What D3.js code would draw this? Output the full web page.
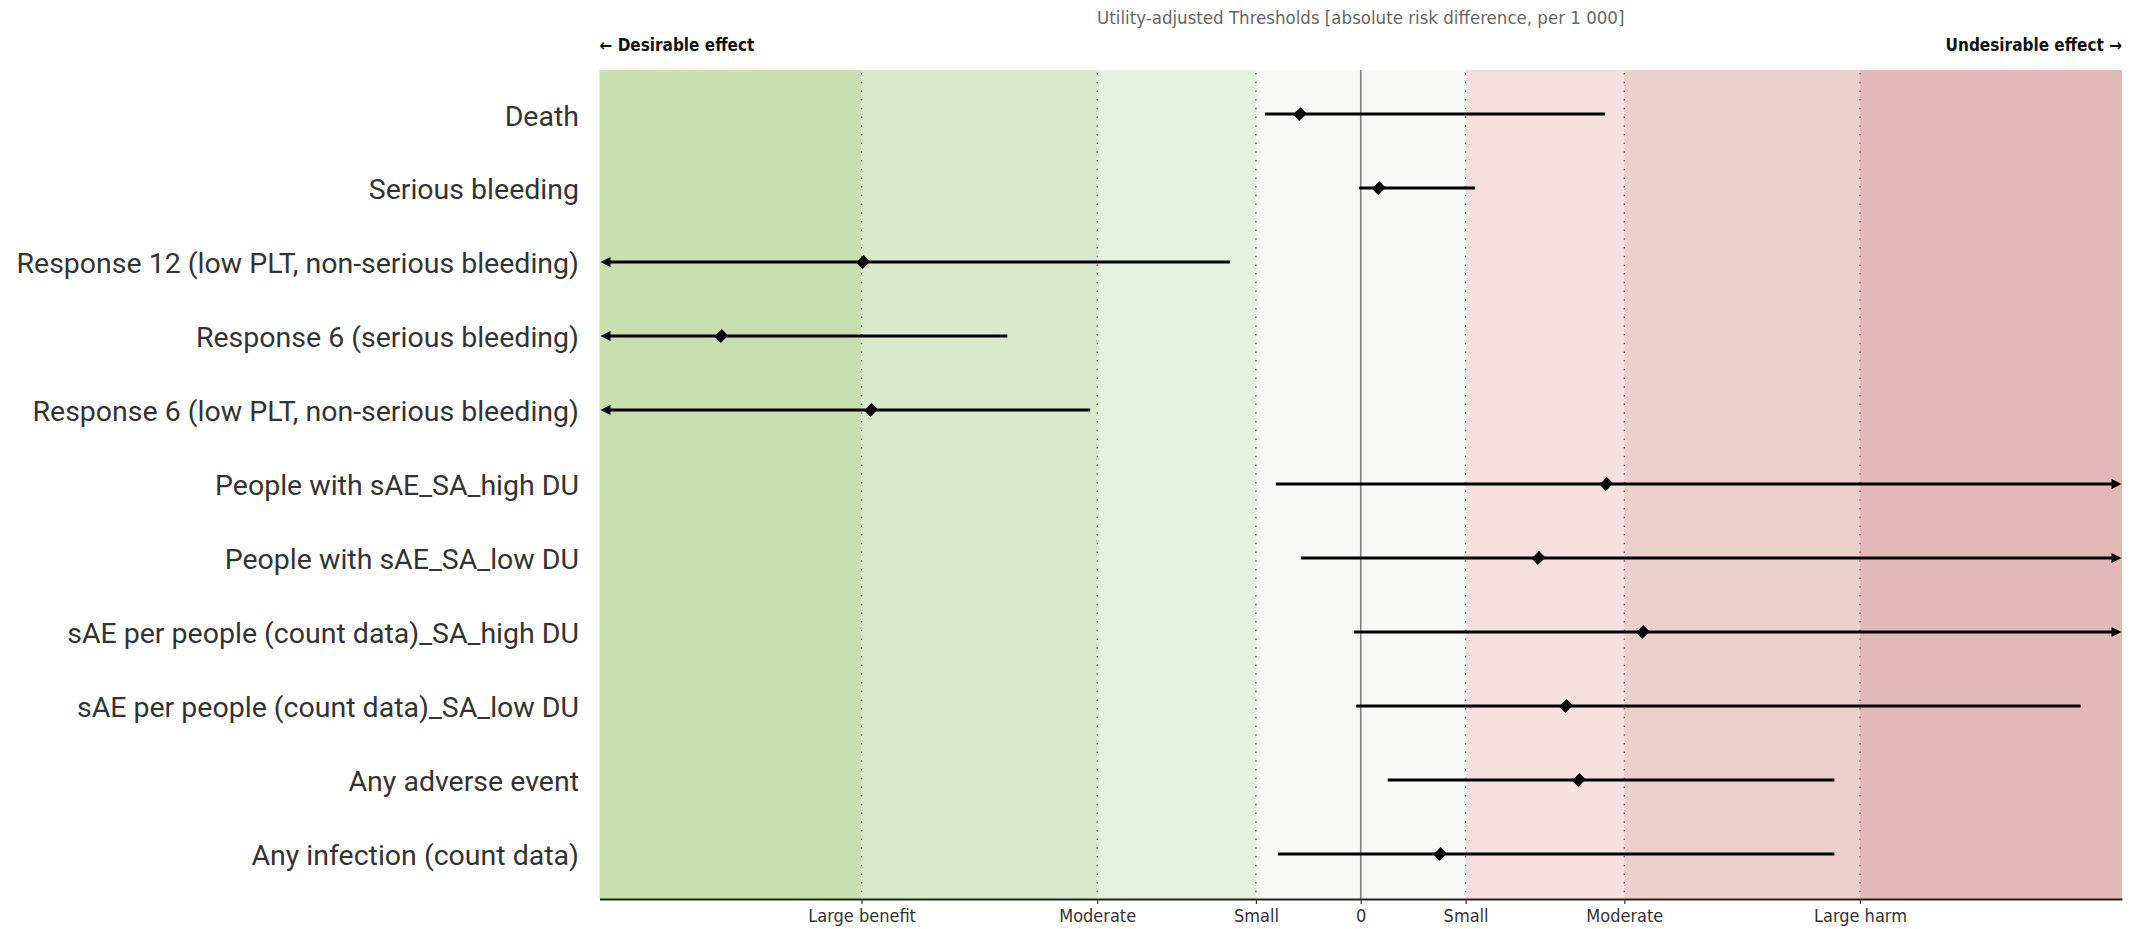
<!DOCTYPE html>
<html>
<head>
<meta charset="utf-8">
<script src="https://cdn.jsdelivr.net/npm/d3@7"></script>
<style>
  body { margin: 0; background: #fff; }
  .cond { font-family: "Liberation Sans Narrow", "DejaVu Sans Condensed", sans-serif; }
  .lab { font-family: Roboto, "Noto Sans", sans-serif; }
</style>
</head>
<body>
<div id="chart"></div>
<script>
// outcomes, top to bottom
var outcomes = [
  "Death",
  "Serious bleeding",
  "Response 12 (low PLT, non-serious bleeding)",
  "Response 6 (serious bleeding)",
  "Response 6 (low PLT, non-serious bleeding)",
  "People with sAE_SA_high DU",
  "People with sAE_SA_low DU",
  "sAE per people (count data)_SA_high DU",
  "sAE per people (count data)_SA_low DU",
  "Any adverse event",
  "Any infection (count data)"
];
// absolute risk difference, per 1 000
var estimate = [-12.2, 3.6, -99.7, -128.1, -98.1, 49.2, 35.6, 56.5, 41.1, 43.7, 15.9];
var lower    = [-19.2, -0.3, -175, -180, -170, -17.0, -12.0, -1.3, -0.9, 5.4, -16.6];
var upper    = [48.9, 22.9, -26.2, -70.8, -54.2, 190, 180, 200, 144.2, 94.9, 94.9];

// thresholds and tick labels
var thresholdValues = [-100, -52.8, -21, 0, 21, 52.8, 100];
var thresholdLabels = ["Large benefit", "Moderate", "Small", "0", "Small", "Moderate", "Large harm"];
var xLimit = 152.5;

// zone fills, left to right
var zoneColors = ['#c8dfb0', '#d9e9cb', '#e6f0de', '#f8f8f6', '#f6e0df', '#ecd0cb', '#e3b8b9'];

var W = 2131, H = 929;
var plot = { left: 599.5, right: 2122, top: 70, bottom: 899 };

var svg = d3.select('#chart').append('svg')
  .attr('width', W)
  .attr('height', H);

var x = d3.scaleLinear().domain([-xLimit, xLimit]).range([plot.left, plot.right]);
var y = d3.scaleBand().domain(outcomes).range([plot.top, plot.bottom - 1]).paddingOuter(0.095).paddingInner(0);
var yc = function(d) { return y(d) + y.bandwidth() / 2; };

// zones
var cuts = [-xLimit].concat(thresholdValues.filter(function(v) { return v != 0; })).concat([xLimit]);
var zones = d3.range(cuts.length - 1).map(function(i) {
  return { x0: cuts[i], x1: cuts[i + 1], fill: zoneColors[i] };
});
svg.append('g').selectAll('rect').data(zones).join('rect')
  .attr('x', function(d) { return x(d.x0); })
  .attr('y', plot.top)
  .attr('width', function(d) { return x(d.x1) - x(d.x0); })
  .attr('height', plot.bottom - plot.top)
  .attr('fill', function(d) { return d.fill; });

// dotted threshold lines
svg.append('g').selectAll('line').data(thresholdValues.filter(function(v) { return v != 0; })).join('line')
  .attr('x1', function(d) { return x(d); })
  .attr('x2', function(d) { return x(d); })
  .attr('y1', plot.top + 3)
  .attr('y2', plot.bottom)
  .attr('stroke', '#666')
  .attr('stroke-width', 1.3)
  .attr('stroke-dasharray', '1.5,7.2');

// zero line
svg.append('line')
  .attr('x1', x(0)).attr('x2', x(0))
  .attr('y1', plot.top).attr('y2', plot.bottom)
  .attr('stroke', '#808080')
  .attr('stroke-width', 1.6);

// bottom axis
var axis = d3.axisBottom(x)
  .tickValues(thresholdValues)
  .tickFormat(function(d, i) { return thresholdLabels[i]; })
  .tickSize(5)
  .tickSizeOuter(0);
var gx = svg.append('g')
  .attr('class', 'cond')
  .attr('transform', 'translate(0,' + plot.bottom + ')')
  .call(axis);
gx.select('.domain').attr('stroke', '#222').attr('stroke-width', 2.2);
gx.selectAll('.tick line').attr('stroke', '#333').attr('stroke-width', 1.2);
gx.selectAll('.tick text')
  .attr('font-size', 18)
  .attr('fill', '#333')
  .attr('y', 10);

// title and direction labels
svg.append('text')
  .attr('class', 'cond')
  .attr('x', x(0))
  .attr('y', 18)
  .attr('dy', '0.35em')
  .attr('text-anchor', 'middle')
  .attr('font-size', 18.5)
  .attr('fill', '#666')
  .text('Utility-adjusted Thresholds [absolute risk difference, per 1 000]');

svg.append('text')
  .attr('class', 'cond')
  .attr('x', plot.left)
  .attr('y', 45)
  .attr('dy', '0.35em')
  .attr('font-size', 17)
  .attr('font-weight', 'bold')
  .attr('fill', '#111')
  .text('\u2190 Desirable effect');

svg.append('text')
  .attr('class', 'cond')
  .attr('x', plot.right)
  .attr('y', 45)
  .attr('dy', '0.35em')
  .attr('text-anchor', 'end')
  .attr('font-size', 17)
  .attr('font-weight', 'bold')
  .attr('fill', '#111')
  .text('Undesirable effect \u2192');

// row labels
svg.append('g').selectAll('text').data(outcomes).join('text')
  .attr('class', 'lab')
  .attr('x', 579)
  .attr('y', function(d) { return yc(d) + 1.5; })
  .attr('dy', '0.35em')
  .attr('text-anchor', 'end')
  .attr('font-size', 28.5)
  .attr('fill', '#333')
  .text(function(d) { return d; });

// intervals, clipped to the plot with arrows
var rows = outcomes.map(function(d, i) {
  return { name: d, est: estimate[i], lo: lower[i], hi: upper[i] };
});
var marks = svg.append('g');
var clampX = function(v) { return x(Math.max(-xLimit, Math.min(xLimit, v))); };

marks.selectAll('line.ci').data(rows).join('line')
  .attr('class', 'ci')
  .attr('x1', function(d) { return clampX(d.lo) + (d.lo < -xLimit ? 6 : 0); })
  .attr('x2', function(d) { return clampX(d.hi) - (d.hi > xLimit ? 6 : 0); })
  .attr('y1', function(d) { return yc(d.name); })
  .attr('y2', function(d) { return yc(d.name); })
  .attr('stroke', '#000')
  .attr('stroke-width', 3);

var arrowL = rows.filter(function(d) { return d.lo < -xLimit; });
var arrowR = rows.filter(function(d) { return d.hi > xLimit; });
marks.selectAll('path.al').data(arrowL).join('path')
  .attr('class', 'al')
  .attr('d', function(d) {
    var tx = x(-xLimit) + 1, ty = yc(d.name);
    return 'M' + tx + ',' + ty + 'L' + (tx + 10) + ',' + (ty - 5) + 'L' + (tx + 10) + ',' + (ty + 5) + 'Z';
  })
  .attr('fill', '#000');
marks.selectAll('path.ar').data(arrowR).join('path')
  .attr('class', 'ar')
  .attr('d', function(d) {
    var tx = x(xLimit) - 0.5, ty = yc(d.name);
    return 'M' + tx + ',' + ty + 'L' + (tx - 10) + ',' + (ty - 5) + 'L' + (tx - 10) + ',' + (ty + 5) + 'Z';
  })
  .attr('fill', '#000');

// point estimates
marks.selectAll('path.pt').data(rows).join('path')
  .attr('class', 'pt')
  .attr('d', d3.symbol(d3.symbolSquare, 95))
  .attr('transform', function(d) { return 'translate(' + x(d.est) + ',' + yc(d.name) + ') rotate(45) scale(0.92,1.08)'; })
  .attr('fill', '#000');
</script>
</body>
</html>
